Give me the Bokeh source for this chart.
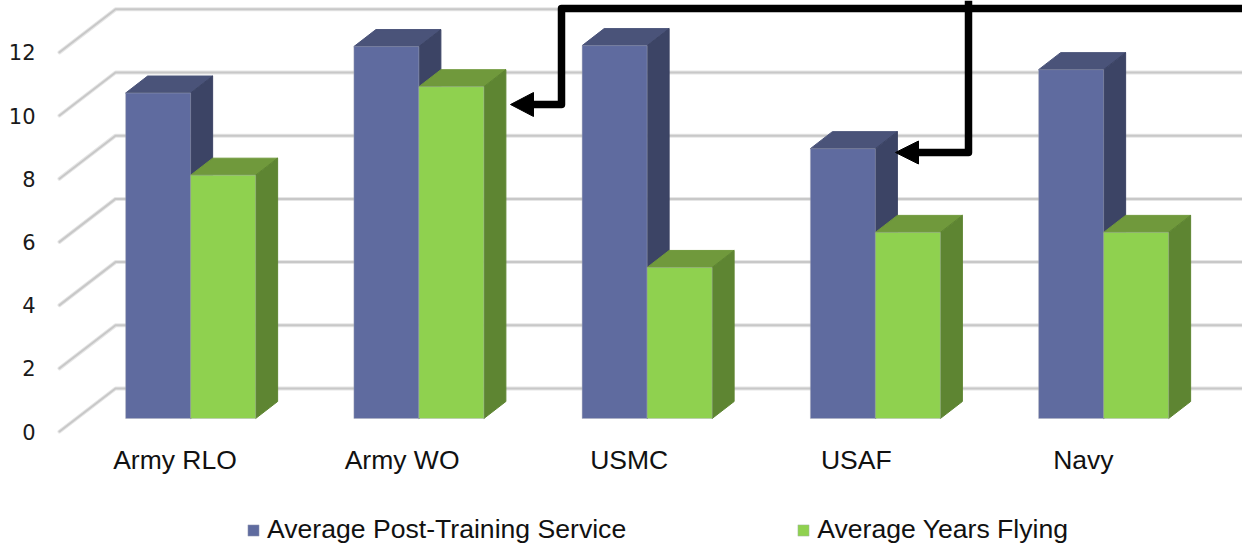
from bokeh.plotting import figure
from bokeh.embed import file_html
from bokeh.resources import INLINE
from bokeh.models import Range1d, FixedTicker, Legend, LegendItem

categories = ["Army RLO", "Army WO", "USMC", "USAF", "Navy"]
post_training = [10.3, 11.77, 11.8, 8.54, 11.04]
years_flying = [7.7, 10.5, 4.78, 5.89, 5.89]
y_ticks = [0, 2, 4, 6, 8, 10, 12]
series_names = ["Average Post-Training Service", "Average Years Flying"]

W, H = 1242, 545
FR_L, AXIS_Y = 55, 435      # frame left edge and category axis line, in page pixels
X0, PX_CAT = 59, 228.25     # pixel of x=0, pixels per category
Y0, PX_UNIT = 431, 31.6     # pixel of value 0, pixels per y unit
LABEL_X0, LABEL_STEP = 174.5, 227.1  # category label centres, in page pixels

def dx(px):
    return px / PX_CAT
def dy(px):
    return px / PX_UNIT
def X(px):
    return (px - X0) / PX_CAT
def Y(px):
    return (Y0 - px) / PX_UNIT

p = figure(width=W, height=H, output_backend="svg", toolbar_location=None,
           x_range=Range1d(X(FR_L), X(W)), y_range=Range1d(Y(H), Y(0)),
           frame_width=W - FR_L, frame_height=H,
           min_border_left=FR_L, min_border_right=0, min_border_top=0,
           min_border_bottom=0, outline_line_color=None,
           background_fill_color="white", border_fill_color="white")
p.grid.visible = False

font = "Liberation Sans"
xa, ya = p.xaxis[0], p.yaxis[0]
xa.fixed_location = Y(AXIS_Y)
label_ticks = [X(LABEL_X0 + i * LABEL_STEP) for i in range(5)]
xa.ticker = FixedTicker(ticks=label_ticks)
xa.major_label_overrides = dict(zip(label_ticks, categories))
xa.major_label_text_font = font
xa.major_label_text_font_size = "26.5px"
xa.major_label_text_color = "#111111"
xa.major_label_standoff = 3
ya.ticker = FixedTicker(ticks=y_ticks)
ya.major_label_text_font = "DejaVu Sans"
ya.major_label_text_font_size = "21px"
ya.major_label_text_color = "#1a1a1a"
ya.major_label_standoff = 14
for a in (xa, ya):
    a.axis_line_color = None
    a.major_tick_line_color = None
    a.minor_tick_line_color = None

# back wall grid with its side wall
WALL_X, WALL_Y = dx(56), dy(43)
for v in y_ticks:
    xs = [0, WALL_X, X(W)]
    ys = [v, v + WALL_Y, v + WALL_Y]
    p.line(xs, ys, line_color="#e6e6e6", line_width=4, line_join="round", line_cap="round")
    p.line(xs, ys, line_color="#c8c8c8", line_width=2, line_join="round", line_cap="round")

# 3-D columns
OFF_X, OFF_Y = dx(17), dy(13)
DEPTH_X, DEPTH_Y = dx(22), dy(17)
BAR_W = dx(65)
EDGE = "#a9adb8"

def column(left, val, front, top, side):
    base = OFF_Y
    right = left + BAR_W
    tip = val + base
    p.patch([left, left + DEPTH_X, right + DEPTH_X, right], [tip, tip + DEPTH_Y, tip + DEPTH_Y, tip],
            fill_color=top, line_color=top, line_width=1)
    p.patch([right, right + DEPTH_X, right + DEPTH_X, right],
            [base, base + DEPTH_Y, tip + DEPTH_Y, tip],
            fill_color=side, line_color=side, line_width=1)
    return p.quad(left=[left], right=[right], bottom=[base], top=[tip],
                  fill_color=front, line_color=EDGE, line_width=1, line_alpha=0.4)

r_blue = r_green = None
for i in range(5):
    c = i + 0.5 + OFF_X
    r_blue = column(c - BAR_W, post_training[i], "#5f6b9f", "#4a5379", "#3c4465")
    r_green = column(c, years_flying[i], "#8fd14f", "#70993c", "#5e8532")

# callout arrows
def callout(px_x, px_y, tip, base, half):
    p.line([X(v) for v in px_x], [Y(v) for v in px_y], line_color="black", line_width=7.5,
           line_join="round", line_cap="butt")
    yc = px_y[-1]
    p.patch([X(tip), X(base), X(base)], [Y(yc), Y(yc - half), Y(yc + half)],
            fill_color="black", line_color="black", line_width=1)

callout([W, 561, 561, 530], [8, 8, 104, 104], 510, 533, 12)
callout([968, 968, 915], [0, 152, 152], 895, 918, 11.5)

legend = Legend(items=[LegendItem(label=series_names[0], renderers=[r_blue]),
                       LegendItem(label=series_names[1], renderers=[r_green])],
                orientation="horizontal", location=(191, 0),
                border_line_color=None, background_fill_alpha=0,
                padding=0, margin=0, spacing=170, glyph_width=14, glyph_height=14,
                label_standoff=7, label_text_font=font, label_text_font_size="26.6px",
                label_text_color="#111111", label_height=26)
p.add_layout(legend, "center")

open("out.html", "w").write(file_html(p, INLINE))
